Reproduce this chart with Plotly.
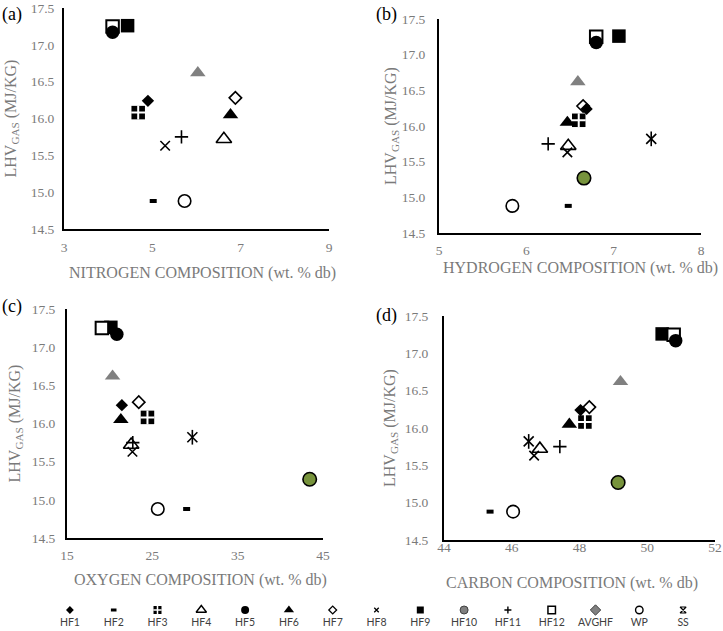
import plotly.graph_objects as go

# ---------------- data ----------------
series = ["HF1", "HF2", "HF3", "HF4", "HF5", "HF6", "HF7", "HF8", "HF9",
          "HF10", "HF11", "HF12", "AVGHF", "WP", "SS"]
lhv_gas = [16.24, 14.88, 16.08, 15.72, 17.17, 16.05, 16.28, 15.63, 17.26,
           15.27, 15.75, 17.25, 16.62, 14.88, 15.82]
nitrogen = [4.90, 5.02, 4.68, 6.62, 4.10, 6.77, 6.88, 5.29, 4.44,
            None, 5.66, 4.10, 6.03, 5.73, None]
hydrogen = [6.69, 6.48, 6.60, 6.48, 6.80, 6.47, 6.65, 6.47, 7.06,
            6.66, 6.25, 6.80, 6.59, 5.84, 7.43]
oxygen = [21.43, 29.02, 24.43, 22.52, 20.84, 21.31, 23.41, 22.67, 20.14,
          43.44, 22.71, 19.09, 20.34, 25.64, 29.69]
carbon = [48.03, 45.36, 48.16, 46.83, 50.84, 47.70, 48.29, 46.66, 50.44,
          49.14, 47.42, 50.78, 49.21, 46.04, 46.50]

x_ticks_n = [3, 5, 7, 9]
x_ticks_h = [5, 6, 7, 8]
x_ticks_o = [15, 25, 35, 45]
x_ticks_c = [44, 46, 48, 50, 52]
y_ticks = [14.5, 15.0, 15.5, 16.0, 16.5, 17.0, 17.5]

panel_labels = ["(a)", "(b)", "(c)", "(d)"]
x_titles = ["NITROGEN COMPOSITION (wt. % db)", "HYDROGEN COMPOSITION (wt. % db)",
            "OXYGEN COMPOSITION (wt. % db)", "CARBON COMPOSITION (wt. % db)"]
y_title = "LHV<sub>GAS</sub> (MJ/KG)"

# ---------------- styles ----------------
BLACK = "#000000"
WHITE = "#ffffff"
GRAY = "#808080"
GREEN = "#77933C"
TEXT_GRAY = "#7a7a7a"


def mk(symbol, size, color, lw=0, lc=BLACK):
    return dict(symbol=symbol, size=size, color=color, line=dict(width=lw, color=lc))


plot_styles = {
    "HF1": [mk("diamond", 9.5, BLACK)],
    "HF2": [mk("line-ew", 5, BLACK, 4)],
    "HF3": [mk("square", 13.5, BLACK), mk("cross-thin", 10, WHITE, 2, WHITE)],
    "HF4": [mk("triangle-up", 13.5, WHITE, 1.6)],
    "HF5": [mk("circle", 13.5, BLACK)],
    "HF6": [mk("triangle-up", 13.5, BLACK)],
    "HF7": [mk("diamond", 9.5, WHITE, 1.6)],
    "HF8": [mk("x-thin", 9.5, BLACK, 1.6)],
    "HF9": [mk("square", 13.5, BLACK)],
    "HF10": [mk("circle", 13.5, GREEN, 1.6)],
    "HF11": [mk("cross-thin", 9.5, BLACK, 1.6)],
    "HF12": [mk("square", 12.5, WHITE, 2)],
    "AVGHF": [mk("triangle-up", 13.5, GRAY)],
    "WP": [mk("circle", 12.5, WHITE, 1.6)],
    "SS": [mk("x-thin", 10, BLACK, 1.6), mk("line-ns", 10.5, BLACK, 1.6)],
}

legend_styles = {
    "HF1": [mk("diamond", 6, BLACK)],
    "HF2": [mk("line-ew", 4, BLACK, 3)],
    "HF3": [mk("square", 8, BLACK), mk("cross-thin", 6, WHITE, 1.5, WHITE)],
    "HF4": [mk("triangle-up", 9, WHITE, 1.4)],
    "HF5": [mk("circle", 8, BLACK)],
    "HF6": [mk("triangle-up", 9, BLACK)],
    "HF7": [mk("diamond", 6, WHITE, 1.3)],
    "HF8": [mk("x-thin", 4.5, BLACK, 1.3)],
    "HF9": [mk("square", 7, BLACK)],
    "HF10": [mk("circle", 8, GRAY, 1, "#404040")],
    "HF11": [mk("cross-thin", 5, BLACK, 1.4)],
    "HF12": [mk("square", 7.5, WHITE, 1.5)],
    "AVGHF": [mk("diamond", 8, GRAY, 1, "#404040")],
    "WP": [mk("circle", 7.5, WHITE, 1.4)],
    "SS": [mk("hourglass-open", 6, BLACK, 1.2)],
}

draw_order = ["AVGHF", "HF2", "WP", "HF3", "HF4", "HF6", "HF7", "HF1", "HF8",
              "HF11", "SS", "HF10", "HF9", "HF12", "HF5"]

W, H = 723, 631


def xdom(a, b):
    return [a / W, b / W]


def ydom(top, bottom):
    return [1 - bottom / H, 1 - top / H]


panels = [
    dict(comp=nitrogen, ticks=x_ticks_n, left=64, right=329, top=8, bottom=229,
         lab=(12, 14), xt=(202, 273), yt=11, xstand=5, ystand=5),
    dict(comp=hydrogen, ticks=x_ticks_h, left=439, right=701, top=19, bottom=233,
         lab=(386, 15), xt=(580, 268), yt=392, xstand=4, ystand=9),
    dict(comp=oxygen, ticks=x_ticks_o, left=67, right=323, top=309, bottom=538,
         lab=(12, 306), xt=(200, 580), yt=15, xstand=4, ystand=7),
    dict(comp=carbon, ticks=x_ticks_c, left=444, right=715, top=316, bottom=540,
         lab=(386, 315), xt=(572, 583), yt=390, xstand=-6, ystand=11),
]

SERIF = "Liberation Serif, Times New Roman, serif"
TICK_FONT = dict(family=SERIF, size=13.5, color=TEXT_GRAY)
TITLE_FONT = dict(family=SERIF, size=16, color=TEXT_GRAY)

fig = go.Figure()
layout = dict(
    width=W, height=H, margin=dict(l=0, r=0, t=0, b=0, autoexpand=False),
    plot_bgcolor="white", paper_bgcolor="white", showlegend=False,
)
annotations = []

for p_i, p in enumerate(panels):
    k = "" if p_i == 0 else str(p_i + 1)
    xa, ya = "x" + k, "y" + k
    for name in draw_order:
        i = series.index(name)
        for st in plot_styles[name]:
            fig.add_trace(go.Scatter(
                x=[p["comp"][i]], y=[lhv_gas[i]], mode="markers", name=name,
                marker=st, xaxis=xa, yaxis=ya, hoverinfo="skip", showlegend=False,
                cliponaxis=False,
            ))
    layout["xaxis" + k] = dict(
        domain=xdom(p["left"], p["right"]), anchor=ya,
        range=[p["ticks"][0], p["ticks"][-1]], tickvals=p["ticks"],
        showgrid=False, zeroline=False, showline=True, linecolor=BLACK, linewidth=2,
        ticks="", tickfont=TICK_FONT, ticklabelstandoff=p["xstand"], automargin=False,
    )
    layout["yaxis" + k] = dict(
        domain=ydom(p["top"], p["bottom"]), anchor=xa,
        range=[y_ticks[0], y_ticks[-1]], tickvals=y_ticks, tickformat=".1f",
        showgrid=False, zeroline=False, showline=True, linecolor=BLACK, linewidth=2,
        ticks="", tickfont=TICK_FONT, ticklabelstandoff=p["ystand"], automargin=False,
    )
    annotations.append(dict(
        text=panel_labels[p_i], x=p["lab"][0] / W, y=1 - p["lab"][1] / H,
        xref="paper", yref="paper", showarrow=False, xanchor="center", yanchor="middle",
        font=dict(family=SERIF, size=18, color=BLACK),
    ))
    annotations.append(dict(
        text=x_titles[p_i], x=p["xt"][0] / W, y=1 - p["xt"][1] / H,
        xref="paper", yref="paper", showarrow=False, xanchor="center", yanchor="middle",
        font=TITLE_FONT,
    ))
    annotations.append(dict(
        text=y_title, x=p["yt"] / W, y=1 - (p["top"] + p["bottom"]) / 2 / H,
        xref="paper", yref="paper", showarrow=False, xanchor="center", yanchor="middle",
        textangle=-90, font=TITLE_FONT,
    ))

# ---------------- legend row ----------------
for name in series:
    for st in legend_styles[name]:
        fig.add_trace(go.Scatter(
            x=[name], y=[0], mode="markers", marker=st, xaxis="x5", yaxis="y5",
            hoverinfo="skip", showlegend=False, cliponaxis=False,
        ))

layout["xaxis5"] = dict(
    domain=xdom(48, 705), anchor="y5", type="category", categoryorder="array",
    categoryarray=series, range=[-0.5, len(series) - 0.5], showgrid=False,
    zeroline=False, showline=False, ticks="", automargin=False,
    tickfont=dict(family="Lato", size=10.5, color="#404040"),
)
layout["yaxis5"] = dict(
    domain=ydom(606, 614), anchor="x5", range=[-1, 1], visible=False,
)

layout["annotations"] = annotations
fig.update_layout(**layout)
fig.write_html("out.html", config={"displayModeBar": False},
               post_script="document.body.style.margin='0px';")
